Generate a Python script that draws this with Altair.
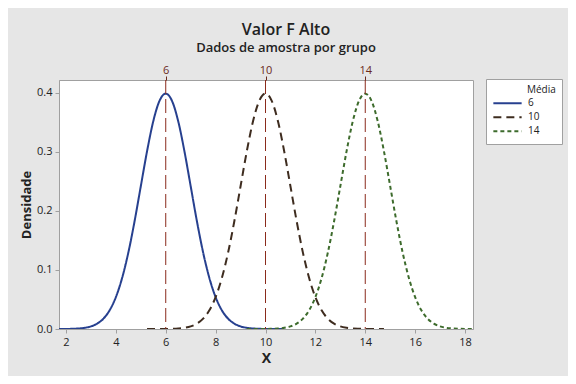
import altair as alt
import pandas as pd

# Group means (legend "Média")
means = [6, 10, 14]
labels = ["6", "10", "14"]
colors = ["#27408f", "#3e2c1f", "#3d6b2c"]
dashes = [[1, 0], [8, 5], [4, 3]]

# Density shape, at distances 0, 0.25, ... 4.75 from the mean
half_offsets = [0.0, 0.25, 0.5, 0.75, 1.0, 1.25, 1.5, 1.75, 2.0, 2.25,
                2.5, 2.75, 3.0, 3.25, 3.5, 3.75, 4.0, 4.25, 4.5, 4.75]
half_density = [0.3989, 0.3867, 0.3521, 0.3011, 0.2420, 0.1826, 0.1295, 0.0863,
                0.0540, 0.0317, 0.0175, 0.0091, 0.0044, 0.0020, 0.0009, 0.0004,
                0.0001, 0.0001, 0.0000, 0.0000]

x_ticks = [2, 4, 6, 8, 10, 12, 14, 16, 18]
y_ticks = [0.0, 0.1, 0.2, 0.3, 0.4]

offsets = [-o for o in half_offsets[:0:-1]] + half_offsets
density = half_density[:0:-1] + half_density

rows = []
for m, lab in zip(means, labels):
    for o, d in zip(offsets, density):
        rows.append({"X": m + o, "Densidade": d, "Média": lab})
df = pd.DataFrame(rows)
ref = pd.DataFrame({"m": means})

FONT = "Open Sans"
BLANK = "\u2800"

curves = alt.Chart(df).mark_line(strokeWidth=2, interpolate="monotone", clip=True).encode(
    x=alt.X("X:Q", scale=alt.Scale(domain=[1.72, 18.32], nice=False, zero=False),
            axis=alt.Axis(values=x_ticks, title="X", grid=False, labelFontSize=11,
                          titleFontSize=14, titleFontWeight="bold", domainColor="#a0a0a0",
                          tickColor="#a0a0a0", labelColor="#222222", titleColor="#222222",
                          tickSize=4, labelPadding=3, titlePadding=4)),
    y=alt.Y("Densidade:Q", scale=alt.Scale(domain=[0, 0.422], nice=False),
            axis=alt.Axis(values=y_ticks, format=".1f", title="Densidade", grid=False,
                          labelFontSize=11, titleFontSize=13, titleFontWeight="bold",
                          domainColor="#a0a0a0", tickColor="#a0a0a0", labelColor="#222222",
                          titleColor="#222222", tickSize=4, labelPadding=3, titlePadding=3)),
    color=alt.Color("Média:N", scale=alt.Scale(domain=labels, range=colors),
                    legend=alt.Legend(title=BLANK * 5 + "Média", orient="none", legendX=427, legendY=-1,
                                      symbolType="stroke", symbolSize=800, symbolStrokeWidth=2,
                                      fillColor="white", strokeColor="#a0a0a0", padding=6,
                                      titleFontSize=10, titleFontWeight="normal", labelFontSize=10,
                                      titleAnchor="start", rowPadding=1, titlePadding=2,
                                      clipHeight=12.5, labelOffset=5,
                                      labelColor="#222222", titleColor="#222222")),
    strokeDash=alt.StrokeDash("Média:N", scale=alt.Scale(domain=labels, range=dashes)),
    order=alt.Order("X:Q"),
)

rules = alt.Chart(ref).mark_rule(color="#8a2b1c", strokeWidth=1, strokeDash=[14, 5]).encode(
    x=alt.X("m:Q", axis=alt.Axis(orient="top", values=means, title=None, grid=False,
                                 domain=False, labelFontSize=11, labelColor="#6b2a1c",
                                 tickColor="#6b2a1c", tickSize=4, labelPadding=1)),
)

chart = alt.layer(curves, rules).resolve_axis(x="independent").properties(
    width=414, height=249,
    background="#e6e6e6",
    autosize=alt.AutoSizeParams(type="none"),
    padding={"left": 51, "top": 72, "right": 95, "bottom": 47},
    title=alt.TitleParams("Valor F Alto", subtitle="Dados de amostra por grupo",
                          fontSize=16, fontWeight=600, subtitleFontSize=13,
                          subtitleFontWeight=600, anchor="middle", color="#222222",
                          subtitleColor="#222222", offset=9, subtitlePadding=4, dx=20),
).configure(font=FONT).configure_view(stroke="#a0a0a0", fill="white")

chart.save("out.html", embed_options={"renderer": "svg", "actions": False})
